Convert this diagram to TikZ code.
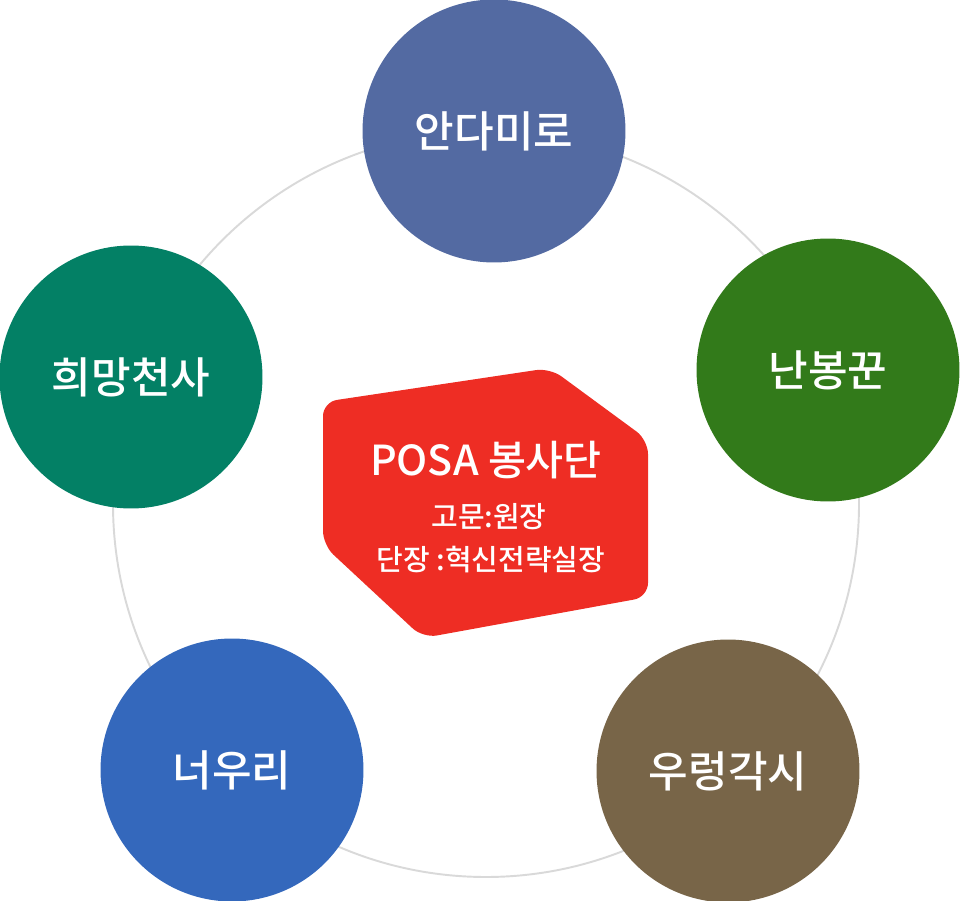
\documentclass[tikz,border=0pt]{standalone}
\usepackage{fontspec}
\setmainfont{Noto Sans CJK KR}[BoldFont={Noto Sans CJK KR Medium}]
\usetikzlibrary{positioning}
\definecolor{ring}{HTML}{D9D9D9}
\definecolor{posa}{HTML}{EE2D24}
\definecolor{andamiro}{HTML}{536AA2}
\definecolor{nanbong}{HTML}{327A1A}
\definecolor{huimang}{HTML}{038065}
\definecolor{neouri}{HTML}{3468BC}
\definecolor{ureong}{HTML}{786548}

\begin{document}
\begin{tikzpicture}[x=0.02cm,y=-0.02cm,
  team/.style={circle,inner sep=0pt,minimum size=5.26cm,text=white,
    font=\fontsize{24.5}{28}\selectfont\bfseries}]
  \useasboundingbox (0,0) rectangle (960,901);

  % Ring behind the teams
  \draw[ring,line width=1.1pt] (486,504) circle (373);

  % Teams
  \node[team,fill=andamiro] (andamiro) at (494,131) {안다미로};
  \node[team,fill=nanbong]  (nanbong)  at (828,370) {난봉꾼};
  \node[team,fill=huimang]  (huimang)  at (131,377) {희망천사};
  \node[team,fill=neouri]   (neouri)   at (232,770) {너우리};
  \node[team,fill=ureong]   (ureong)   at (728,771) {우렁각시};

  % POSA centre block
  \fill[posa,rounded corners=8pt] (323,402) -- (550,368) -- (648,440)
    -- (648,597) -- (423,638) -- (323,545) -- cycle;
  \node[text=white,font=\fontsize{23.5}{28}\selectfont\bfseries] (posa) at (486,460) {POSA 봉사단};
  \node[text=white,font=\fontsize{16.5}{20}\selectfont\bfseries] (advisor) at (489,517) {고문:원장};
  \node[text=white,font=\fontsize{16.5}{20}\selectfont\bfseries] (leader) at (491,560) {단장 :혁신전략실장};
\end{tikzpicture}
\end{document}
